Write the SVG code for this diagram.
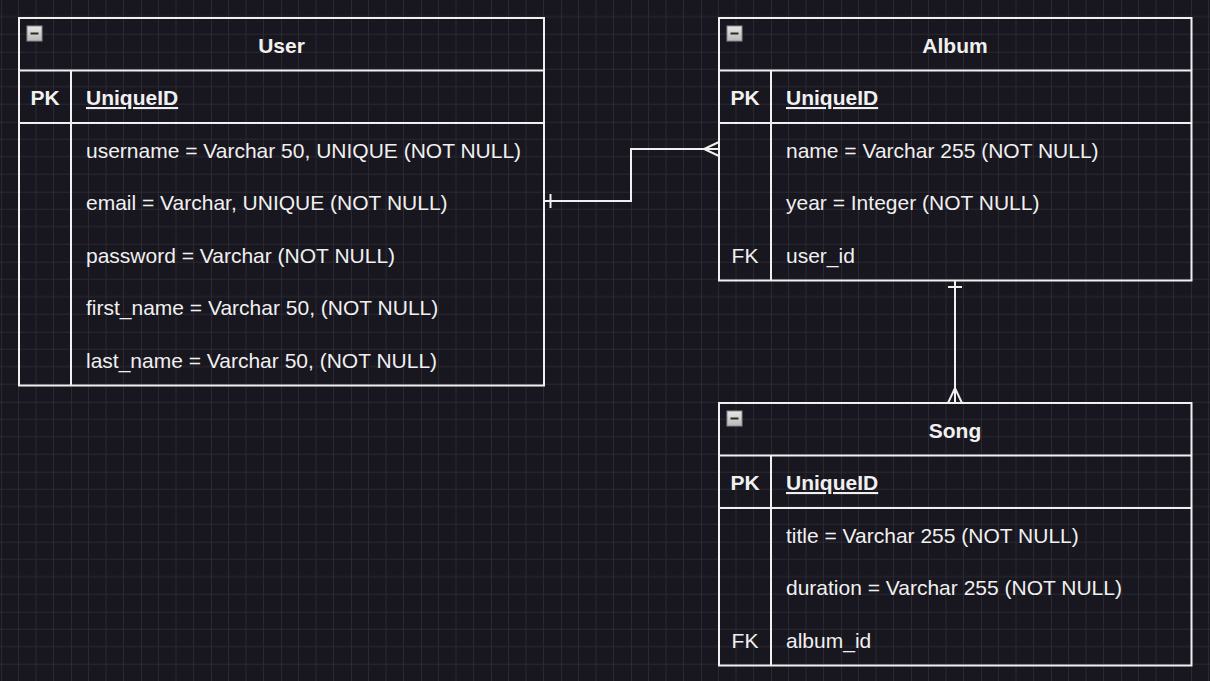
<svg xmlns="http://www.w3.org/2000/svg" width="1210" height="681" viewBox="0 0 1210 681">
<defs>
<pattern id="grid" patternUnits="userSpaceOnUse" x="1" y="-18.3" width="70" height="70">
<path d="M17.5 0V70M35 0V70M52.5 0V70M0 17.5H70M0 35H70M0 52.5H70" stroke="#2a2830" stroke-width="1" fill="none"/>
<path d="M0 0V70M0 0H70" stroke="#3b3942" stroke-width="1" fill="none"/>
</pattern>
<linearGradient id="btn" x1="0" y1="0" x2="0" y2="1">
<stop offset="0" stop-color="#e8e8e8"/>
<stop offset="1" stop-color="#b8b8b8"/>
</linearGradient>
<g id="collapse">
<rect x="0" y="0" width="15" height="15" fill="url(#btn)" stroke="#8a8a8a" stroke-width="1"/>
<rect x="3.5" y="6.5" width="8" height="2" fill="#2a2a2a"/>
</g>
</defs>
<style>
.box{fill:none;stroke:#f0f0f0;stroke-width:2}
.ln{fill:none;stroke:#f0f0f0;stroke-width:2}
.t{font-family:"Liberation Sans",Arial,sans-serif;font-size:21px;fill:#f0f0f0}
.b{font-weight:bold}
.c{text-anchor:middle}
.conn{fill:none;stroke:#f0f0f0;stroke-width:2}
</style>
<rect width="1210" height="681" fill="#18161e"/>
<rect width="1210" height="681" fill="url(#grid)"/>

<g id="user">
<rect class="box" x="19" y="18" width="525" height="367.5"/>
<path class="ln" d="M19 70.5H544M19 123H544M71 70.5V385.5"/>
<use href="#collapse" x="27" y="26"/>
<text class="t b c" x="281.5" y="53">User</text>
<text class="t b c" x="45" y="105">PK</text>
<text class="t b" x="86" y="105" text-decoration="underline">UniqueID</text>
<text class="t" x="86" y="158">username = Varchar 50, UNIQUE (NOT NULL)</text>
<text class="t" x="86" y="210">email = Varchar, UNIQUE (NOT NULL)</text>
<text class="t" x="86" y="263">password = Varchar (NOT NULL)</text>
<text class="t" x="86" y="315">first_name = Varchar 50, (NOT NULL)</text>
<text class="t" x="86" y="368">last_name = Varchar 50, (NOT NULL)</text>
</g>

<g id="album">
<rect class="box" x="719" y="18" width="472.5" height="262.5"/>
<path class="ln" d="M719 70.5H1191.5M719 123H1191.5M771 70.5V280.5"/>
<use href="#collapse" x="727" y="26"/>
<text class="t b c" x="955" y="53">Album</text>
<text class="t b c" x="745" y="105">PK</text>
<text class="t b" x="786" y="105" text-decoration="underline">UniqueID</text>
<text class="t" x="786" y="158">name = Varchar 255 (NOT NULL)</text>
<text class="t" x="786" y="210">year = Integer (NOT NULL)</text>
<text class="t c" x="745" y="263">FK</text>
<text class="t" x="786" y="263">user_id</text>
</g>

<g id="song">
<rect class="box" x="719" y="403" width="472.5" height="262.5"/>
<path class="ln" d="M719 455.5H1191.5M719 508H1191.5M771 455.5V665.5"/>
<use href="#collapse" x="727" y="411"/>
<text class="t b c" x="955" y="438">Song</text>
<text class="t b c" x="745" y="490">PK</text>
<text class="t b" x="786" y="490" text-decoration="underline">UniqueID</text>
<text class="t" x="786" y="543">title = Varchar 255 (NOT NULL)</text>
<text class="t" x="786" y="595">duration = Varchar 255 (NOT NULL)</text>
<text class="t c" x="745" y="648">FK</text>
<text class="t" x="786" y="648">album_id</text>
</g>

<g id="connectors">
<path class="conn" d="M544 201H631V149H719"/>
<path class="conn" d="M550.5 194V208"/>
<path class="conn" d="M719 142L704 149L719 156"/>
<path class="conn" d="M955 280V403"/>
<path class="conn" d="M948 287H962"/>
<path class="conn" d="M948 403L955 388L962 403"/>
</g>
</svg>
